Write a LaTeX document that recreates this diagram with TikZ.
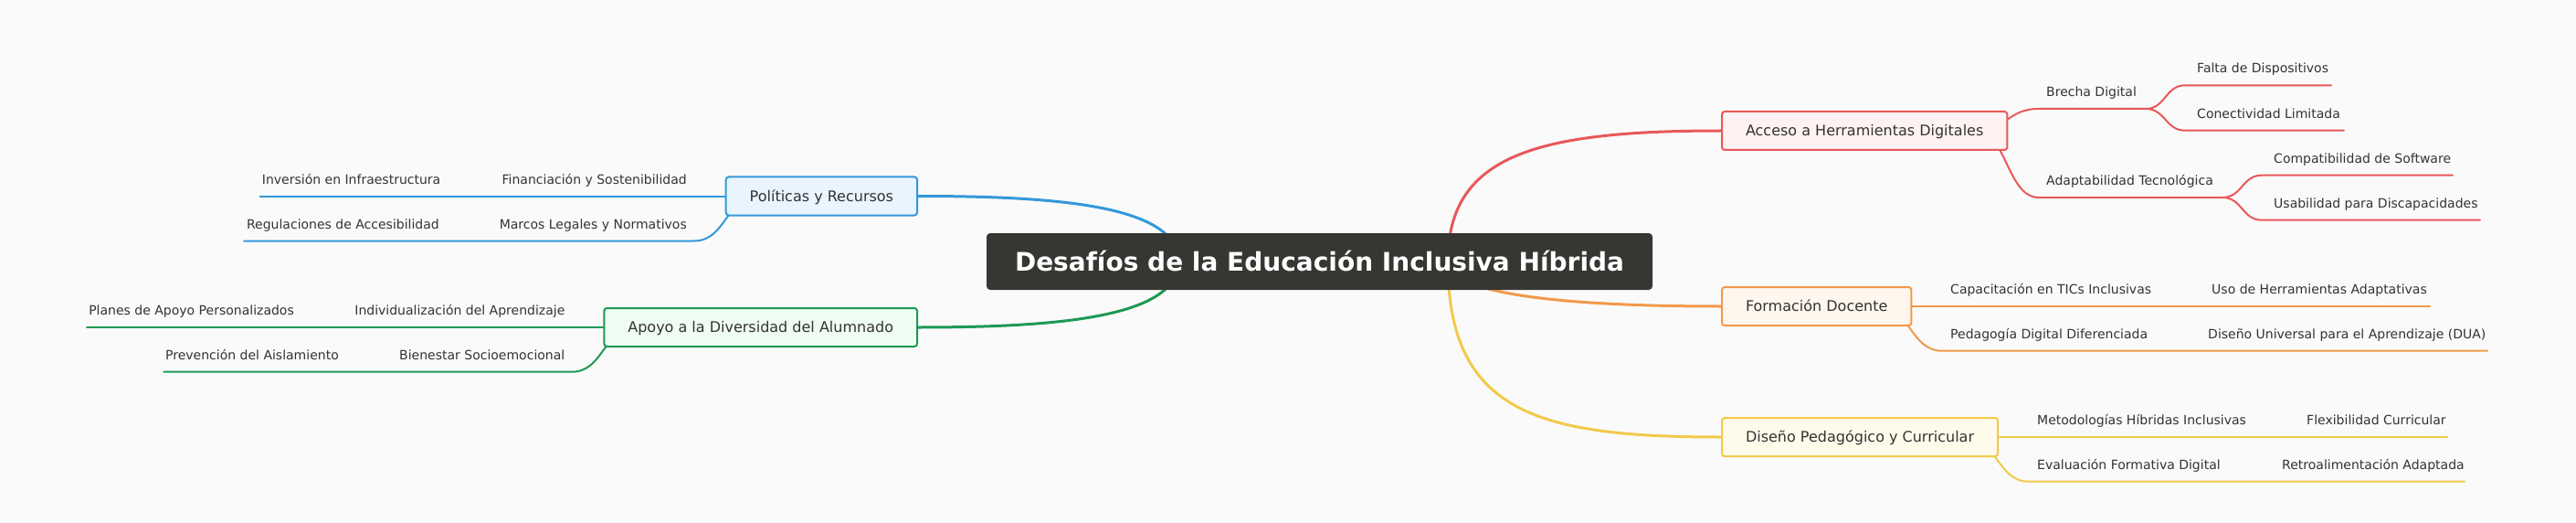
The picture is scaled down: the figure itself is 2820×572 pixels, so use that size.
\documentclass[tikz,border=0pt]{standalone}
\usepackage{fontspec}
\setmainfont{DejaVu Sans}
\usetikzlibrary{backgrounds}

\definecolor{pagebg}{HTML}{FAFAFA}
\definecolor{rootfill}{HTML}{373632}
\definecolor{txtgray}{HTML}{333333}
\definecolor{accred}{HTML}{E8585A}
\definecolor{accredbg}{HTML}{FFF2F2}
\definecolor{formorange}{HTML}{F2994A}
\definecolor{formorangebg}{HTML}{FFF6EE}
\definecolor{disyellow}{HTML}{F2C94C}
\definecolor{disyellowbg}{HTML}{FFFBEA}
\definecolor{polblue}{HTML}{3498DB}
\definecolor{polbluebg}{HTML}{EAF4FE}
\definecolor{apogreen}{HTML}{1E9955}
\definecolor{apogreenbg}{HTML}{EEFCF2}

\tikzset{
  catbox/.style 2 args={draw=#1, fill=#2, line width=2pt, rounded corners=3pt,
    minimum height=42pt, inner xsep=26pt, inner ysep=0pt, text height=11.7pt,
    text depth=0pt, font=\fontsize{16}{19}\selectfont, text=txtgray},
  leaf/.style={inner sep=0pt, font=\fontsize{14}{17}\selectfont, text=txtgray},
  rootlink/.style={line width=3pt, line cap=round},
  branch/.style={line width=2pt, line cap=round},
}

\begin{document}
\begin{tikzpicture}[x=1pt, y=-1pt, line join = round]
\useasboundingbox (0,0) rectangle (2820,572);

\node[fill=rootfill, rounded corners=4pt, minimum height=62pt, inner xsep=31pt,
  inner ysep=0pt, text height=20.4pt, text depth=0pt, text=white,
  font=\fontsize{28}{34}\selectfont\bfseries] (root) at (1444.5,286)
  {Desafíos de la Educación Inclusiva Híbrida};

\coordinate [] (hubR) at (1585,286);
\coordinate [] (hubL) at (1290,286);

\node[catbox={accred}{accredbg}, anchor=west] (acc) at (1884,143) {Acceso a Herramientas Digitales};
\node[catbox={formorange}{formorangebg}, anchor=west] (form) at (1884,335) {Formación Docente};
\node[catbox={disyellow}{disyellowbg}, anchor=west] (dis) at (1884,478) {Diseño Pedagógico y Curricular};
\node[catbox={polblue}{polbluebg}, anchor=east] (pol) at (1005,214.5) {Políticas y Recursos};
\node[catbox={apogreen}{apogreenbg}, anchor=east] (apo) at (1005,358) {Apoyo a la Diversidad del Alumnado};

\coordinate [] (accIn)   at (2162,143);
\coordinate [] (brecha0) at (2232,119);
\coordinate [] (brecha1) at (2349,119);
\coordinate [] (falta0)  at (2392,93.3);
\coordinate [] (falta1)  at (2552,93.3);
\coordinate [] (conec0)  at (2392,142.7);
\coordinate [] (conec1)  at (2566,142.7);
\coordinate [] (adapt0)  at (2232,216);
\coordinate [] (adapt1)  at (2433,216);
\coordinate [] (compat0) at (2476,191.7);
\coordinate [] (compat1) at (2685,191.7);
\coordinate [] (usab0)   at (2476,240.7);
\coordinate [] (usab1)   at (2715,240.7);

\coordinate [] (formIn)  at (2056,335);
\coordinate [] (capac1)  at (2380,335);
\coordinate [] (uso1)    at (2660,335);
\coordinate [] (pedag0)  at (2126,383.7);
\coordinate [] (dua1)    at (2723,383.7);

\coordinate [] (disIn)   at (2151,478);
\coordinate [] (metod1)  at (2480,478);
\coordinate [] (flex1)   at (2679,478);
\coordinate [] (eval0)   at (2221,526.7);
\coordinate [] (retro1)  at (2698,526.7);

\coordinate [] (polIn)   at (830,214.5);
\coordinate [] (fin1)    at (520,214.5);
\coordinate [] (inv1)    at (284.7,214.5);
\coordinate [] (marcos0) at (760,263.5);
\coordinate [] (regul1)  at (267,263.5);

\coordinate [] (apoIn)   at (696,358);
\coordinate [] (indiv1)  at (355,358);
\coordinate [] (planes1) at (95,358);
\coordinate [] (bien0)   at (626,406.7);
\coordinate [] (prev1)   at (179.4,406.7);

\node[leaf, anchor=base west] (brecha) at (2240,105.5) {Brecha Digital};
\node[leaf, anchor=base west] (falta)  at (2405,80)    {Falta de Dispositivos};
\node[leaf, anchor=base west] (conec)  at (2405,129.2) {Conectividad Limitada};
\node[leaf, anchor=base west] (adapt)  at (2240,202.5) {Adaptabilidad Tecnológica};
\node[leaf, anchor=base west] (compat) at (2489,178.2) {Compatibilidad de Software};
\node[leaf, anchor=base west] (usab)   at (2489,227.2) {Usabilidad para Discapacidades};

\node[leaf, anchor=base west] (capac) at (2135,321.5) {Capacitación en TICs Inclusivas};
\node[leaf, anchor=base west] (uso)   at (2421,321.5) {Uso de Herramientas Adaptativas};
\node[leaf, anchor=base west] (pedag) at (2135,370.2) {Pedagogía Digital Diferenciada};
\node[leaf, anchor=base west] (dua)   at (2417,370.2) {Diseño Universal para el Aprendizaje (DUA)};

\node[leaf, anchor=base west] (metod) at (2230,464.5) {Metodologías Híbridas Inclusivas};
\node[leaf, anchor=base west] (flex)  at (2525,464.5) {Flexibilidad Curricular};
\node[leaf, anchor=base west] (eval)  at (2230,513.2) {Evaluación Formativa Digital};
\node[leaf, anchor=base west] (retro) at (2498,513.2) {Retroalimentación Adaptada};

\node[leaf, anchor=base east] (fin)    at (752,201)   {Financiación y Sostenibilidad};
\node[leaf, anchor=base east] (inv)    at (482.5,201) {Inversión en Infraestructura};
\node[leaf, anchor=base east] (marcos) at (752,250)   {Marcos Legales y Normativos};
\node[leaf, anchor=base east] (regul)  at (481,250)   {Regulaciones de Accesibilidad};

\node[leaf, anchor=base east] (indiv)  at (618.5,344.5) {Individualización del Aprendizaje};
\node[leaf, anchor=base east] (planes) at (322,344.5)   {Planes de Apoyo Personalizados};
\node[leaf, anchor=base east] (bien)   at (618.5,393.2) {Bienestar Socioemocional};
\node[leaf, anchor=base east] (prev)   at (371,393.2)   {Prevención del Aislamiento};

\begin{pgfonlayer}{background}
\fill [pagebg] (0,0) rectangle (2820,572);

\draw[rootlink, accred]     (hubR) .. controls +(0,-116) and +(-203,0) .. (acc.west);
\draw[rootlink, formorange] (hubR) .. controls +(0,34) and +(-183,0) .. (form.west);
\draw[rootlink, disyellow]  (hubR) .. controls +(0,164) and +(-203,0) .. (dis.west);
\draw[rootlink, polblue]    (hubL) .. controls +(0,-61) and +(154,0) .. (pol.east);
\draw[rootlink, apogreen]   (hubL) .. controls +(0,61) and +(154,0) .. (apo.east);

\draw[branch, accred] (accIn) .. controls +(35,0) and +(-35,0) .. (brecha0) -- (brecha1);
\draw[branch, accred] (brecha1) .. controls +(21.5,0) and +(-21.5,0) .. (falta0) -- (falta1);
\draw[branch, accred] (brecha1) .. controls +(21.5,0) and +(-21.5,0) .. (conec0) -- (conec1);
\draw[branch, accred] (accIn) .. controls +(35,0) and +(-35,0) .. (adapt0) -- (adapt1);
\draw[branch, accred] (adapt1) .. controls +(21.5,0) and +(-21.5,0) .. (compat0) -- (compat1);
\draw[branch, accred] (adapt1) .. controls +(21.5,0) and +(-21.5,0) .. (usab0) -- (usab1);

\draw[branch, formorange] (form.east) -- (capac1) -- (uso1);
\draw[branch, formorange] (formIn) .. controls +(35,0) and +(-35,0) .. (pedag0) -- (dua1);

\draw[branch, disyellow] (dis.east) -- (metod1) -- (flex1);
\draw[branch, disyellow] (disIn) .. controls +(35,0) and +(-35,0) .. (eval0) -- (retro1);

\draw[branch, polblue] (pol.west) -- (fin1) -- (inv1);
\draw[branch, polblue] (polIn) .. controls +(-35,0) and +(35,0) .. (marcos0) -- (regul1);

\draw[branch, apogreen] (apo.west) -- (indiv1) -- (planes1);
\draw[branch, apogreen] (apoIn) .. controls +(-35,0) and +(35,0) .. (bien0) -- (prev1);
\end{pgfonlayer}

\end{tikzpicture}
\end{document}
